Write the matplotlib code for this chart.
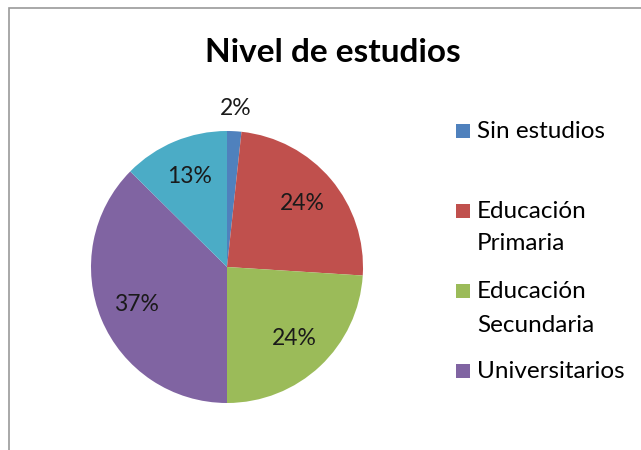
import matplotlib

matplotlib.use("Agg")
import matplotlib.pyplot as plt  # noqa: E402
from matplotlib.patches import Rectangle  # noqa: E402

plt.rcParams["font.family"] = ["Lato", "DejaVu Sans"]

categories = ["Sin estudios", "Educación Primaria", "Educación Secundaria", "Universitarios", "Otros"]
legend_lines = [["Sin estudios"], ["Educación", "Primaria"], ["Educación", "Secundaria"], ["Universitarios"]]
values = [1.7, 24.3, 24.0, 37.4, 12.6]
colors = ["#4F81BD", "#C0504D", "#9BBB59", "#8064A2", "#4BACC6"]

fig = plt.figure(figsize=(6.41, 4.5), dpi=100)
W, H = 641, 450

# chart frame
fig.patches.append(Rectangle((9 / W, -0.1), 1.2, (H - 8) / H + 0.1, transform=fig.transFigure,
                             fill=False, edgecolor="#9a9a9a", linewidth=1.2))

cx, cy, r = 227, 267, 136
ax = fig.add_axes([(cx - r) / W, (H - cy - r) / H, 2 * r / W, 2 * r / H])
wedges, texts, autotexts = ax.pie(
    values, colors=colors, startangle=90, counterclock=False,
    autopct="%.0f%%", pctdistance=0.72,
    wedgeprops=dict(linewidth=0),
    textprops=dict(fontsize=16.5, color="#1a1a1a"),
)
# smallest slice label sits outside the pie
x0, y0 = autotexts[0].get_position()
autotexts[0].set_position((x0 / 0.72 * 1.17, y0 / 0.72 * 1.17))
ax.set_xlim(-1, 1)
ax.set_ylim(-1, 1)
ax.set_aspect("equal")

fig.text(333 / W, 1 - 52 / H, "Nivel de estudios", ha="center", va="center",
         fontsize=24, fontweight="bold", color="#000000")

# legend (Excel-style spacing)
baselines = [[138], [218, 250], [298, 332], [378]]
for lines, ys, w in zip(legend_lines, baselines, wedges):
    fig.patches.append(Rectangle((456 / W, 1 - ys[0] / H), 14 / W, 14 / H,
                                 transform=fig.transFigure, facecolor=w.get_facecolor(),
                                 edgecolor="none"))
    for line, y in zip(lines, ys):
        fig.text(477 / W, 1 - y / H, line, ha="left", va="baseline", fontsize=17.5,
                 color="#000000")

fig.savefig("out.png", dpi=100)
